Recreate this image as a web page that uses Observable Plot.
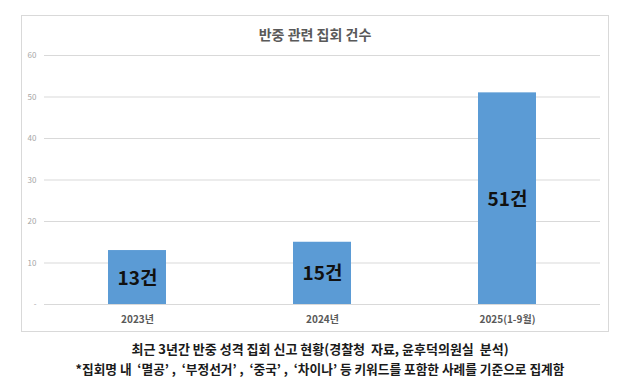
<!DOCTYPE html>
<html>
<head>
<meta charset="utf-8">
<script src="https://cdn.jsdelivr.net/npm/d3@7"></script>
<script src="https://cdn.jsdelivr.net/npm/@observablehq/plot@0.6"></script>
<style>
  html, body { margin: 0; padding: 0; background: #fff; }
  body { width: 640px; height: 386px; position: relative; overflow: hidden; font-family: "Noto Sans CJK KR", "Noto Sans", sans-serif; }
  #box { position: absolute; left: 21px; top: 15px; width: 586px; height: 315px; border: 1px solid #d9d9d9; background: #fff; }
  #title { height: 30px; line-height: 36px; text-align: center; font-size: 14px; font-weight: 700; color: #595959; }
  .cap { position: absolute; left: 0; width: 640px; text-align: center; font-family: "Noto Sans CJK KR", serif; font-weight: 700; color: #1a1a1a; font-size: 13px; white-space: pre; }
</style>
</head>
<body>
<div id="box"><div id="title">반중 관련 집회 건수</div><div id="chart"></div></div>
<div class="cap" style="top:339px">최근 3년간 반중 성격 집회 신고 현황(경찰청  자료, 윤후덕의원실  분석)</div>
<div class="cap" style="top:359px; font-size:12.7px">*집회명 내  ‘멸공’ ,  ‘부정선거’ ,  ‘중국’ ,  ‘차이나’ 등 키워드를 포함한 사례를 기준으로 집계함</div>
<script>
const categories = ["2023년", "2024년", "2025(1-9월)"];
const values = [13, 15, 51];
const valueLabels = ["13건", "15건", "51건"];
const yTicks = [0, 10, 20, 30, 40, 50, 60];

const data = categories.map((c, i) => ({category: c, value: values[i], label: valueLabels[i]}));

const chart = Plot.plot({
  width: 586,
  height: 285,
  marginTop: 9,
  marginBottom: 27,
  marginLeft: 22,
  marginRight: 8,
  style: {fontFamily: "'Noto Sans CJK KR', sans-serif", background: "#fff"},
  x: {domain: categories, paddingInner: 0.687, paddingOuter: 0.3435, align: 0.5, label: null},
  y: {domain: [0, 60], label: null},
  marks: [
    Plot.gridY(yTicks, {stroke: "#d9d9d9", strokeOpacity: 1}),
    Plot.axisY(yTicks, {tickSize: 0, tickPadding: 8, fontSize: 8, fill: "#a6a6a6", label: null,
      tickFormat: d => d === 0 ? "-" : String(d)}),
    Plot.barY(data, {x: "category", y: "value", fill: "#5b9bd5"}),
    Plot.text(data, {x: "category", y: d => d.value / 2, dy: 1, text: "label", fontSize: 19, fontWeight: 700, fill: "#111"}),
    Plot.axisX({tickSize: 0, tickPadding: 11, fontSize: 10, fontWeight: 700, fill: "#595959", label: null})
  ]
});
document.getElementById("chart").appendChild(chart);
</script>
</body>
</html>
